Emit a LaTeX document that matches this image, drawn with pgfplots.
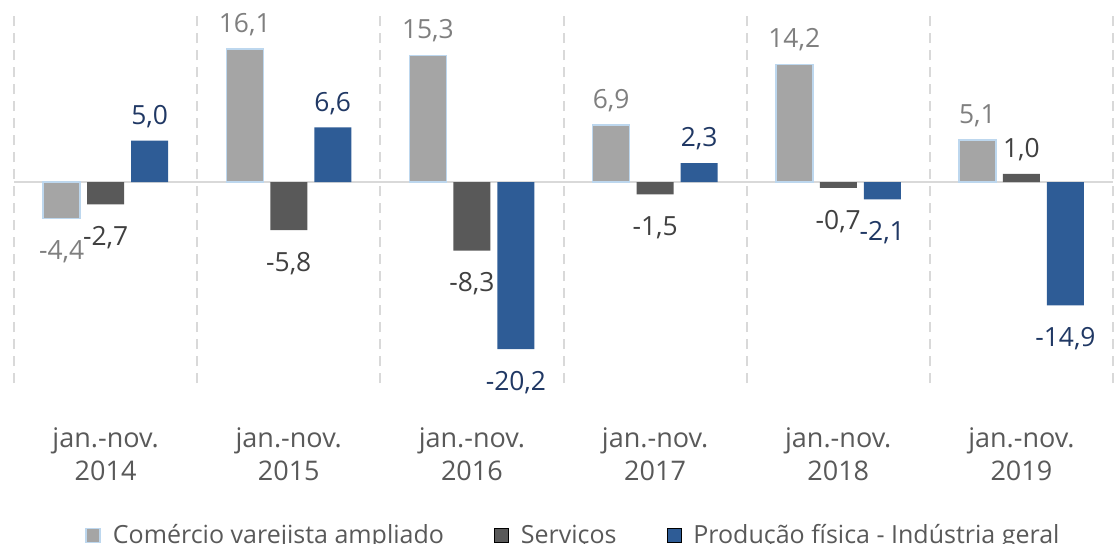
\documentclass[border=0pt]{standalone}
\usepackage{pgfplots}
\pgfplotsset{compat=1.18}
\usepackage{fontspec}
\setmainfont{Open Sans}
\definecolor{cgray}{HTML}{A5A5A5}
\definecolor{cborder}{HTML}{BDD7EE}
\definecolor{cdark}{HTML}{595959}
\definecolor{cblue}{HTML}{2E5C96}
\definecolor{lgray}{HTML}{7F7F7F}
\definecolor{ldark}{HTML}{404040}
\definecolor{lblue}{HTML}{203864}
\definecolor{gridc}{HTML}{D9D9D9}
\begin{document}
\begin{tikzpicture}
\useasboundingbox (0,0) rectangle (557.5pt,-271.5pt);
\begin{axis}[
  at={(7pt,-191.5pt)}, anchor=south west,
  width=549.5pt, height=184pt, scale only axis,
  ymin=-24.3, ymax=20.2,
  xmin=-0.5, xmax=5.5,
  ybar=3.5pt, bar width=18.5pt,
  axis line style={draw=none},
  ytick=\empty,
  xtick={0,1,2,3,4,5},
  xticklabels={{jan.-nov.\\2014},{jan.-nov.\\2015},{jan.-nov.\\2016},{jan.-nov.\\2017},{jan.-nov.\\2018},{jan.-nov.\\2019}},
  xticklabel style={align=center, font=\fontsize{13.5}{16.5}\selectfont, text=cdark, yshift=-19pt},
  major tick length=0pt, minor tick length=0pt,
  minor xtick={-0.5,0.5,1.5,2.5,3.5,4.5,5.5},
  xminorgrids=true,
  minor grid style={gridc, line width=1pt, dash pattern=on 5pt off 3.5pt},
  extra y ticks={0}, extra y tick labels={},
  extra y tick style={grid=major},
  major grid style={gridc, line width=0.75pt, solid},
  clip=false,
  nodes near coords={\pgfmathprintnumber[fixed,fixed zerofill,precision=1,use comma,assume math mode=true]{\pgfplotspointmeta}},
  visualization depends on={y \as \rawy},
  every node near coord/.append style={font=\fontsize{13.2}{15}\selectfont, yshift={ifthenelse(\rawy<0,-7.5,3)}},
  legend style={at={(0.51,-0.415)}, anchor=center, legend columns=3, draw=none, fill=none,
    font=\fontsize{12.5}{15}\selectfont, text=cdark,
    /tikz/every odd column/.append style={column sep=4pt},
    /tikz/every even column/.append style={column sep=23pt}},
  legend image code/.code={\draw[#1] (0pt,-3.5pt) rectangle (7pt,3.5pt);},
]
\addplot[fill=cgray, draw=cborder, line width=0.75pt, every node near coord/.append style={text=lgray}]
  coordinates {(0,-4.4) (1,16.1) (2,15.3) (3,6.9) (4,14.2) (5,5.1)};
\addplot[fill=cdark, draw=none, every node near coord/.append style={text=ldark}]
  coordinates {(0,-2.7) (1,-5.8) (2,-8.3) (3,-1.5) (4,-0.7) (5,1.0)};
\addplot[fill=cblue, draw=none, every node near coord/.append style={text=lblue}]
  coordinates {(0,5.0) (1,6.6) (2,-20.2) (3,2.3) (4,-2.1) (5,-14.9)};
\legend{Comércio varejista ampliado, Serviços, Produção física - Indústria geral}
\end{axis}
\end{tikzpicture}
\end{document}
